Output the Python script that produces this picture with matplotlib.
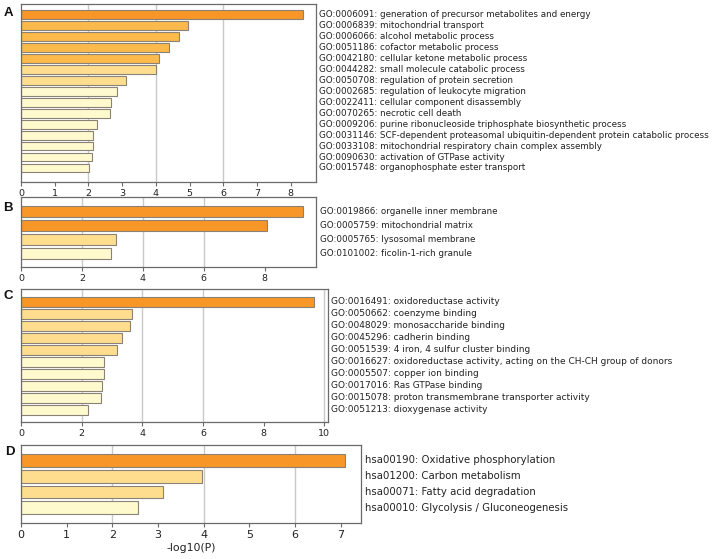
import matplotlib
matplotlib.use("Agg")
import matplotlib.pyplot as plt
import matplotlib.transforms as mtransforms

# ---------------- data ----------------
a_labels = [
    "GO:0006091: generation of precursor metabolites and energy",
    "GO:0006839: mitochondrial transport",
    "GO:0006066: alcohol metabolic process",
    "GO:0051186: cofactor metabolic process",
    "GO:0042180: cellular ketone metabolic process",
    "GO:0044282: small molecule catabolic process",
    "GO:0050708: regulation of protein secretion",
    "GO:0002685: regulation of leukocyte migration",
    "GO:0022411: cellular component disassembly",
    "GO:0070265: necrotic cell death",
    "GO:0009206: purine ribonucleoside triphosphate biosynthetic process",
    "GO:0031146: SCF-dependent proteasomal ubiquitin-dependent protein catabolic process",
    "GO:0033108: mitochondrial respiratory chain complex assembly",
    "GO:0090630: activation of GTPase activity",
    "GO:0015748: organophosphate ester transport",
]
a_values = [8.35, 4.94, 4.68, 4.38, 4.10, 3.99, 3.10, 2.85, 2.68, 2.63, 2.25, 2.15, 2.13, 2.11, 2.01]
a_levels = [0, 1, 1, 1, 1, 2, 2, 3, 3, 3, 3, 3, 3, 3, 3]

b_labels = [
    "GO:0019866: organelle inner membrane",
    "GO:0005759: mitochondrial matrix",
    "GO:0005765: lysosomal membrane",
    "GO:0101002: ficolin-1-rich granule",
]
b_values = [9.25, 8.07, 3.13, 2.96]
b_levels = [0, 0, 2, 3]

c_labels = [
    "GO:0016491: oxidoreductase activity",
    "GO:0050662: coenzyme binding",
    "GO:0048029: monosaccharide binding",
    "GO:0045296: cadherin binding",
    "GO:0051539: 4 iron, 4 sulfur cluster binding",
    "GO:0016627: oxidoreductase activity, acting on the CH-CH group of donors",
    "GO:0005507: copper ion binding",
    "GO:0017016: Ras GTPase binding",
    "GO:0015078: proton transmembrane transporter activity",
    "GO:0051213: dioxygenase activity",
]
c_values = [9.65, 3.65, 3.60, 3.34, 3.18, 2.75, 2.73, 2.68, 2.64, 2.20]
c_levels = [0, 2, 2, 2, 2, 3, 3, 3, 3, 3]

d_labels = [
    "hsa00190: Oxidative phosphorylation",
    "hsa01200: Carbon metabolism",
    "hsa00071: Fatty acid degradation",
    "hsa00010: Glycolysis / Gluconeogenesis",
]
d_values = [7.09, 3.95, 3.10, 2.57]
d_levels = [0, 2, 2, 3]

a_ticks = [0, 1, 2, 3, 4, 5, 6, 7, 8]
b_ticks = [0, 2, 4, 6, 8]
c_ticks = [0, 2, 4, 6, 8, 10]
d_ticks = [0, 1, 2, 3, 4, 5, 6, 7]
grid_values = [2, 4, 6, 10]

# ---------------- style ----------------
palette = ["#F99628", "#FDBA4C", "#FEDE8E", "#FFF9CE"]
edge_col = "#8a8276"
spine_col = "#6a6a6a"
grid_col = "#c9c9c9"

fig = plt.figure(figsize=(7.16, 5.59), dpi=100)
W, H = 716, 559


def px_axes(left, top, right, bottom):
    return fig.add_axes([left / W, 1 - bottom / H, (right - left) / W, (bottom - top) / H])


def panel(ax, labels, values, levels, ticks, xmax, ylim, lab_fs, tick_fs, lab_dx):
    n = len(values)
    ys = list(range(n))
    for g in grid_values:
        if g < xmax:
            ax.axvline(g, color=grid_col, lw=1.0, zorder=0)
    ax.barh(ys, values, height=0.8, color=[palette[l] for l in levels],
            edgecolor=edge_col, linewidth=0.8, zorder=2)
    ax.set_xlim(0, xmax)
    ax.set_ylim(*ylim)
    ax.set_yticks([])
    ax.set_xticks(ticks)
    ax.tick_params(axis="x", labelsize=tick_fs, length=3, width=0.8,
                   color=spine_col, labelcolor="#222222", pad=2)
    for s in ax.spines.values():
        s.set_color(spine_col)
        s.set_linewidth(0.9)
    trans = mtransforms.blended_transform_factory(ax.transAxes, ax.transData)
    off = mtransforms.offset_copy(trans, fig=fig, x=lab_dx, y=0, units="dots")
    for y, t in zip(ys, labels):
        ax.text(1.0, y, t, transform=off, ha="left", va="center",
                fontsize=lab_fs, color="#222222")


axA = px_axes(21, 4, 316, 182)
panel(axA, a_labels, a_values, a_levels, a_ticks, 8.75, (15.28, -0.99), 6.3, 6.8, 3)

axB = px_axes(21, 197, 316, 267)
panel(axB, b_labels, b_values, b_levels, b_ticks, 9.68, (4.0, -1.08), 6.3, 6.8, 4)

axC = px_axes(21, 289, 328, 422)
panel(axC, c_labels, c_values, c_levels, c_ticks, 10.12, (10.0, -1.08), 6.5, 6.8, 3)

axD = px_axes(21, 445, 361, 523)
panel(axD, d_labels, d_values, d_levels, d_ticks, 7.44, (3.97, -0.98), 7.3, 8.0, 4)
axD.set_xlabel("-log10(P)", fontsize=7.8, color="#222222", labelpad=2)

for letter, x, y in [("A", 8.5, 13), ("B", 7.5, 208), ("C", 8, 296), ("D", 10, 452)]:
    fig.text(x / W, 1 - y / H, letter, ha="center", va="center",
             fontsize=9.5, fontweight="bold", family="Liberation Sans", color="#111111")

fig.savefig("out.png", dpi=100)
